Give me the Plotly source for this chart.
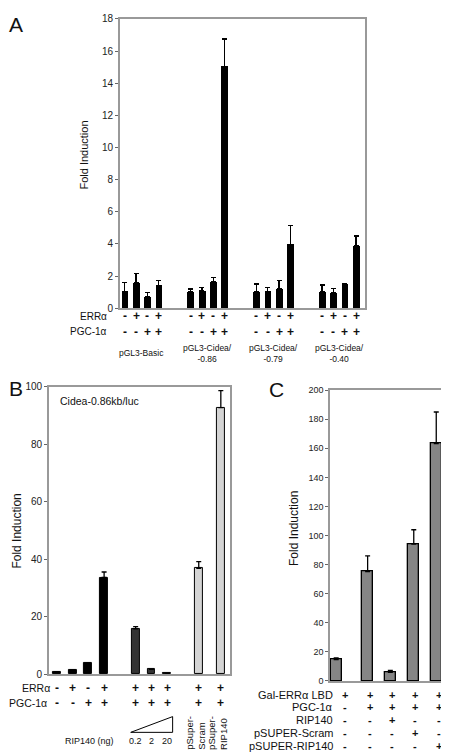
import plotly.graph_objects as go

W, H = 449, 752
FONT = "Liberation Sans, Arial, sans-serif"

# ---------------- Data ----------------
# Panel A
A_x = [0, 1, 2, 3, 5.8, 6.8, 7.8, 8.8, 11.6, 12.6, 13.6, 14.6, 17.4, 18.4, 19.4, 20.4]
A_vals = [1.05, 1.6, 0.73, 1.42, 1.03, 1.1, 1.63, 15.05, 1.04, 1.05, 1.22, 3.98, 1.04, 0.96, 1.5, 3.88]
A_err = [0.54, 0.56, 0.27, 0.29, 0.16, 0.18, 0.27, 1.71, 0.47, 0.26, 0.49, 1.18, 0.41, 0.26, 0.05, 0.61]
A_err_sign = ["-", "+", "-", "+"] * 4
A_pgc_sign = ["-", "-", "+", "+"] * 4
A_groups = ["pGL3-Basic", "pGL3-Cidea/<br>-0.86", "pGL3-Cidea/<br>-0.79", "pGL3-Cidea/<br>-0.40"]
A_group_x = [1.5, 7.3, 13.1, 18.9]
A_yticks = list(range(0, 19, 2))

# Panel B
B_x = [0, 1, 2, 3, 5, 6, 7, 9, 10.4]
B_vals = [0.9, 1.5, 3.9, 33.7, 15.8, 1.7, 0.3, 36.9, 92.8]
B_err = [0, 0, 0, 1.9, 0.8, 0, 0, 2.3, 5.9]
B_colors = ["#000000"] * 4 + ["#333333"] * 3 + ["#d4d4d4"] * 2
B_err_sign = ["-", "+", "-", "+", "+", "+", "+", "+", "+"]
B_pgc_sign = ["-", "-", "+", "+", "+", "+", "+", "+", "+"]
B_rip_doses = ["0.2", "2", "20"]
B_pSuper = ["pSuper-<br>Scram", "pSuper-<br>RIP140"]
B_yticks = list(range(0, 101, 20))

# Panel C
C_x = [0, 1.37, 2.36, 3.38, 4.36]
C_sign_x = [0.39, 1.48, 2.43, 3.43, 4.48]
C_vals = [14.7, 75.2, 5.9, 94.1, 163.2]
C_err = [1.1, 10.8, 1.3, 9.9, 21.8]
C_rows = ["Gal-ERRα LBD", "PGC-1α", "RIP140", "pSUPER-Scram", "pSUPER-RIP140"]
C_signs = [
    ["+", "+", "+", "+", "+"],
    ["-", "+", "+", "+", "+"],
    ["-", "-", "+", "-", "-"],
    ["-", "-", "-", "+", "-"],
    ["-", "-", "-", "-", "+"],
]
C_yticks = list(range(0, 201, 20))


def px(p):
    return p / W


def py(p):
    return 1 - p / H


fig = go.Figure()

eb = dict(type="data", symmetric=False, color="black", thickness=1.3, width=2.5)

fig.add_trace(go.Bar(
    x=A_x, y=A_vals, width=0.6, marker=dict(color="black", line=dict(width=0)),
    error_y=dict(eb, array=A_err, arrayminus=[0] * len(A_err)),
    xaxis="x", yaxis="y", showlegend=False))

fig.add_trace(go.Bar(
    x=B_x, y=B_vals, width=0.5, marker=dict(color=B_colors, line=dict(color="black", width=1)),
    error_y=dict(eb, array=B_err, arrayminus=[0] * len(B_err)),
    xaxis="x2", yaxis="y2", showlegend=False))

fig.add_trace(go.Bar(
    x=C_x, y=C_vals, width=0.48, marker=dict(color="#858585", line=dict(color="black", width=1.3)),
    error_y=dict(eb, array=C_err, arrayminus=[0] * len(C_err)),
    xaxis="x3", yaxis="y3", showlegend=False))

frame = dict(showline=True, mirror=True, linecolor="#999999", linewidth=1.5, showgrid=False, zeroline=False)
ytk = dict(ticks="outside", ticklen=3, tickcolor="#666", tickfont=dict(size=10, color="#222"))

fig.update_layout(
    width=W, height=H, margin=dict(l=0, r=0, t=0, b=0),
    paper_bgcolor="white", plot_bgcolor="white",
    font=dict(family=FONT, color="#111"),
    bargap=0,
    xaxis=dict(frame, domain=[px(112), px(358)], range=[-0.44, 21.2], showticklabels=False, ticks=""),
    yaxis=dict(frame, **ytk, domain=[py(299), py(5)], range=[0, 18], tickvals=A_yticks),
    xaxis2=dict(frame, domain=[px(41), px(222)], range=[-0.5, 10.95], showticklabels=False, ticks="", anchor="y2"),
    yaxis2=dict(frame, **ytk, domain=[py(671), py(379)], range=[0, 100], tickvals=B_yticks, anchor="x2"),
    xaxis3=dict(frame, domain=[px(322.7), px(448.3)], range=[-0.27, 5.19], showticklabels=False, ticks="", anchor="y3"),
    yaxis3=dict(frame, ticks="outside", ticklen=3, tickcolor="#666", tickfont=dict(size=9, color="#222"),
                domain=[py(677.7), py(382.3)], range=[0, 200], tickvals=C_yticks, anchor="x3"),
)

ann = []


def text(x, y, t, size=10, xref="paper", xanchor="center", yanchor="middle", bold=False, angle=0,
         align="center", xshift=0):
    ann.append(dict(x=x, y=y, xref=xref, yref="paper", text=(f"<b>{t}</b>" if bold else t),
                    showarrow=False, xanchor=xanchor, yanchor=yanchor, textangle=angle, align=align,
                    xshift=xshift, borderpad=0,
                    font=dict(size=size, family=FONT, color="#111")))


# Panel letters
text(px(0), py(11), "A", size=21, xanchor="left")
text(px(0), py(381), "B", size=21, xanchor="left")
text(px(261), py(382), "C", size=21, xanchor="left")

# Axis titles
text(px(76), py(143), "Fold Induction", size=11, angle=-90)
text(px(9), py(525), "Fold Induction", size=12, angle=-90)
text(px(286), py(523), "Fold Induction", size=12, angle=-90)

# Panel A sign rows
text(px(100), py(307), "ERRα", size=10, xanchor="right")
text(px(100), py(323), "PGC-1α", size=10, xanchor="right")
for xv, s1, s2 in zip(A_x, A_err_sign, A_pgc_sign):
    text(xv, py(307), s1, size=12, xref="x", bold=True)
    text(xv, py(323), s2, size=12, xref="x", bold=True)
for gx, g in zip(A_group_x, A_groups):
    text(gx, py(345), g, size=8.5, xref="x")

# Panel B
text(px(51), py(393), "Cidea-0.86kb/luc", size=10.5, xanchor="left")
text(px(43), py(685), "ERRα", size=10.5, xanchor="right")
text(px(40), py(700), "PGC-1α", size=10.5, xanchor="right")
for xv, s1, s2 in zip(B_x, B_err_sign, B_pgc_sign):
    text(xv, py(685), s1, size=12, xref="x2", bold=True)
    text(xv, py(700), s2, size=12, xref="x2", bold=True)
text(px(107), py(739), "RIP140 (ng)", size=9, xanchor="right")
for xv, d in zip(B_x[4:7], B_rip_doses):
    text(xv, py(739), d, size=9, xref="x2")
for xv, t in zip(B_x[7:9], B_pSuper):
    text(xv, py(749), t, size=9.5, xref="x2", angle=-90, yanchor="bottom", align="left", xshift=-4)

# Panel C sign rows
C_row_y = [691.7, 704.3, 717.3, 731, 744.3]
for ry, label, signs in zip(C_row_y, C_rows, C_signs):
    text(px(326.5), py(ry), label, size=11, xanchor="right")
    for xv, s in zip(C_sign_x, signs):
        text(xv, py(ry), s, size=11, xref="x3", bold=True)

fig.update_layout(annotations=ann)

# Triangle for RIP140 dose
fig.add_shape(type="path", xref="paper", yref="paper",
              path=f"M {px(123)} {py(730)} L {px(165)} {py(714)} L {px(165)} {py(730)} Z",
              line=dict(color="black", width=1), fillcolor="white")

fig.write_html("out.html")
